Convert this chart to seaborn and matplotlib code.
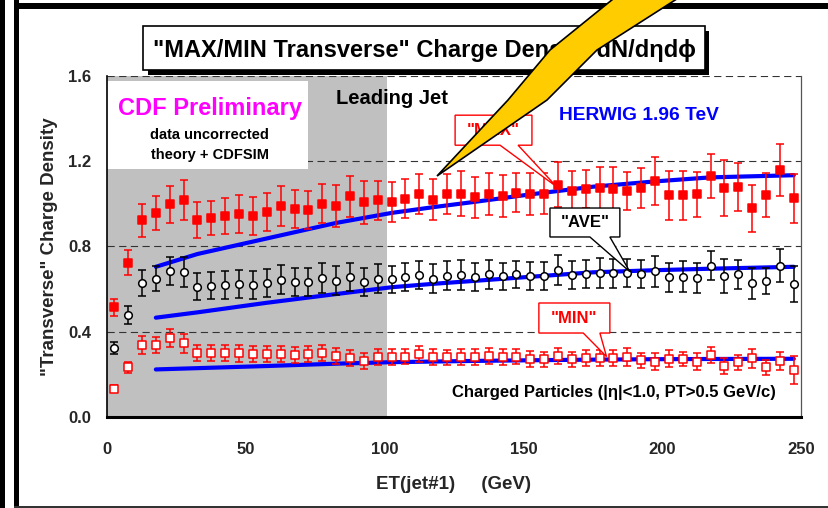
import numpy as np
import pandas as pd
import matplotlib
matplotlib.use("Agg")
import matplotlib.pyplot as plt
import seaborn as sns
from matplotlib.patches import Rectangle, Polygon

# ---------------------------------------------------------------- data
et_bins = [2.5, 7.5, 12.5, 17.5, 22.5, 27.5, 32.5, 37.5, 42.5, 47.5,
           52.5, 57.5, 62.5, 67.5, 72.5, 77.5, 82.5, 87.5, 92.5, 97.5,
           102.5, 107.5, 112.5, 117.5, 122.5, 127.5, 132.5, 137.5, 142.5, 147.5,
           152.5, 157.5, 162.5, 167.5, 172.5, 177.5, 182.5, 187.5, 192.5, 197.5,
           202.5, 207.5, 212.5, 217.5, 222.5, 227.5, 232.5, 237.5, 242.5, 247.5]

max_density = [0.513, 0.723, 0.923, 0.957, 0.998, 1.017, 0.923, 0.934, 0.942, 0.951,
               0.942, 0.961, 0.990, 0.975, 0.970, 1.001, 0.989, 1.036, 1.006, 1.017,
               1.008, 1.023, 1.044, 1.020, 1.045, 1.048, 1.030, 1.045, 1.036, 1.051,
               1.047, 1.048, 1.090, 1.059, 1.068, 1.075, 1.070, 1.059, 1.072, 1.106,
               1.039, 1.040, 1.044, 1.131, 1.075, 1.079, 0.978, 1.040, 1.158, 1.025]
max_err = [0.041, 0.058, 0.077, 0.080, 0.086, 0.095, 0.086, 0.081, 0.086, 0.088,
           0.088, 0.091, 0.095, 0.090, 0.090, 0.093, 0.100, 0.096, 0.102, 0.092,
           0.094, 0.092, 0.094, 0.096, 0.094, 0.104, 0.095, 0.099, 0.100, 0.092,
           0.098, 0.098, 0.105, 0.094, 0.090, 0.098, 0.102, 0.090, 0.094, 0.113,
           0.116, 0.114, 0.107, 0.102, 0.131, 0.111, 0.109, 0.103, 0.122, 0.117]

ave_density = [0.324, 0.477, 0.629, 0.648, 0.684, 0.679, 0.610, 0.615, 0.619, 0.623,
               0.617, 0.627, 0.643, 0.632, 0.632, 0.651, 0.638, 0.657, 0.634, 0.649,
               0.645, 0.654, 0.665, 0.649, 0.662, 0.665, 0.654, 0.668, 0.660, 0.668,
               0.660, 0.662, 0.688, 0.665, 0.670, 0.674, 0.673, 0.673, 0.670, 0.684,
               0.654, 0.657, 0.652, 0.709, 0.660, 0.668, 0.626, 0.638, 0.709, 0.623]
ave_err = [0.028, 0.041, 0.061, 0.059, 0.066, 0.069, 0.064, 0.063, 0.064, 0.064,
           0.065, 0.066, 0.068, 0.065, 0.065, 0.069, 0.068, 0.067, 0.065, 0.067,
           0.064, 0.066, 0.065, 0.067, 0.068, 0.069, 0.066, 0.067, 0.064, 0.064,
           0.066, 0.066, 0.070, 0.064, 0.065, 0.069, 0.067, 0.066, 0.067, 0.073,
           0.069, 0.073, 0.069, 0.068, 0.079, 0.070, 0.074, 0.061, 0.078, 0.086]

min_density = [0.131, 0.232, 0.336, 0.336, 0.368, 0.344, 0.300, 0.300, 0.300, 0.297,
               0.294, 0.294, 0.294, 0.290, 0.294, 0.300, 0.286, 0.277, 0.263, 0.282,
               0.279, 0.282, 0.294, 0.279, 0.279, 0.279, 0.279, 0.285, 0.279, 0.282,
               0.272, 0.269, 0.285, 0.269, 0.276, 0.276, 0.276, 0.282, 0.266, 0.258,
               0.272, 0.271, 0.258, 0.290, 0.238, 0.255, 0.274, 0.232, 0.263, 0.219]
min_err = [0.016, 0.026, 0.041, 0.039, 0.042, 0.043, 0.039, 0.039, 0.038, 0.039,
           0.039, 0.038, 0.039, 0.038, 0.039, 0.039, 0.038, 0.038, 0.037, 0.038,
           0.038, 0.035, 0.037, 0.037, 0.036, 0.037, 0.037, 0.036, 0.037, 0.036,
           0.037, 0.036, 0.038, 0.037, 0.036, 0.038, 0.039, 0.042, 0.035, 0.039,
           0.039, 0.035, 0.041, 0.036, 0.039, 0.035, 0.045, 0.036, 0.042, 0.064]

herwig_et = [17.5, 32.5, 57.5, 82.5, 102.5, 117.5, 132.5, 152.5, 175.0, 197.5, 217.5, 247.5]
herwig_max = [0.704, 0.764, 0.837, 0.910, 0.957, 0.984, 1.009, 1.044, 1.080, 1.105, 1.124, 1.134]
herwig_ave = [0.465, 0.490, 0.535, 0.576, 0.608, 0.624, 0.638, 0.657, 0.678, 0.688, 0.695, 0.704]
herwig_min = [0.222, 0.228, 0.238, 0.249, 0.256, 0.259, 0.262, 0.265, 0.268, 0.270, 0.271, 0.272]

x_ticks = [0, 50, 100, 150, 200, 250]
y_ticks = [0.0, 0.4, 0.8, 1.2, 1.6]

RED, BLUE, BLACK = "#FF0000", "#0000FF", "#000000"

data = pd.DataFrame({
    "ET": et_bins * 3,
    "density": max_density + ave_density + min_density,
    "err": max_err + ave_err + min_err,
    "region": ["MAX"] * 50 + ["AVE"] * 50 + ["MIN"] * 50,
})
theory = pd.DataFrame({
    "ET": herwig_et * 3,
    "density": herwig_max + herwig_ave + herwig_min,
    "region": ["MAX"] * 12 + ["AVE"] * 12 + ["MIN"] * 12,
})

# ---------------------------------------------------------------- figure
sns.set_theme(style="white")
plt.rcParams["font.family"] = ["Liberation Sans", "DejaVu Sans"]
plt.rcParams["font.weight"] = "bold"

W, H = 829, 508
fig = plt.figure(figsize=(W / 100, H / 100), dpi=100)
fig.patch.set_facecolor("white")


def fx(px):
    return px / W


def fy(py):
    return 1 - py / H


ax = fig.add_axes([fx(107.3), fy(416.7), (800.7 - 107.3) / W, (416.7 - 76.0) / H])
ax.set_facecolor("white")
ax.set_xlim(0, 250)
ax.set_ylim(0, 1.6)

# shaded leading-jet region and label box
ax.axvspan(0, 101, ymin=0, ymax=1, color="#C0C0C0", zorder=0, lw=0)
for yv in y_ticks[1:]:
    ax.axhline(yv, color="#333333", lw=0.8, dashes=(6.5, 4.0), zorder=0.5)
ax.add_patch(Rectangle((0, 1.162), 72.3, 0.413, facecolor="white",
                       edgecolor="none", zorder=1))

# HERWIG curves
sns.lineplot(data=theory, x="ET", y="density", units="region", estimator=None,
             color=BLUE, lw=3.0, ax=ax, zorder=2, legend=False)

# error bars and markers
styles = {
    "MAX": dict(color=RED, marker="s", face=RED),
    "AVE": dict(color=BLACK, marker="o", face="white"),
    "MIN": dict(color=RED, marker="s", face="white"),
}
for name, st in styles.items():
    sub = data[data["region"] == name]
    ax.errorbar(sub["ET"], sub["density"], yerr=sub["err"], fmt="none",
                ecolor=st["color"], elinewidth=1.1, capsize=3, capthick=1.1,
                zorder=3)
    sns.scatterplot(data=sub, x="ET", y="density", marker=st["marker"],
                    s=26 if st["marker"] == "s" else 30,
                    color=st["face"], edgecolor=st["color"], linewidth=1.1,
                    ax=ax, zorder=4, legend=False)


# call-out labels
def callout(x0, x1, y0, y1, t0, t1, tip, text, color):
    pts = [(x0, y1), (x1, y1), (x1, y0), (t1, y0), tip, (t0, y0), (x0, y0)]
    ax.add_patch(Polygon(pts, closed=True, facecolor="white", edgecolor=color,
                         lw=1.0, zorder=5))
    ax.text((x0 + x1) / 2, (y0 + y1) / 2, text, color=color, fontsize=12,
            fontweight="bold", ha="center", va="center", zorder=6)


callout(125.4, 153.1, 1.275, 1.416, 141.6, 148.1, (162.0, 1.080), '"MAX"', RED)
callout(159.6, 184.8, 0.844, 0.980, 174.0, 181.2, (188.4, 0.681), '"AVE"', BLACK)
callout(155.6, 181.2, 0.393, 0.534, 171.6, 177.6, (180.0, 0.282), '"MIN"', RED)

# annotations
ax.text(36.85, 1.416, "CDF Preliminary", color="#FF00FF", fontsize=17,
        fontweight="bold", ha="center", va="baseline", zorder=6)
ax.text(36.85, 1.306, "data uncorrected", color=BLACK, fontsize=10.5,
        fontweight="bold", ha="center", va="baseline", zorder=6)
ax.text(36.85, 1.208, "theory + CDFSIM", color=BLACK, fontsize=10.5,
        fontweight="bold", ha="center", va="baseline", zorder=6)
ax.text(102.5, 1.470, "Leading Jet", color=BLACK, fontsize=14.5,
        fontweight="bold", ha="center", va="baseline", zorder=6)
ax.text(191.7, 1.392, "HERWIG 1.96 TeV", color=BLUE, fontsize=13.8,
        fontweight="bold", ha="center", va="baseline", zorder=6)
ax.text(182.7, 0.091, "Charged Particles (|η|<1.0, PT>0.5 GeV/c)", color=BLACK,
        fontsize=12, fontweight="bold", ha="center", va="baseline", zorder=6)

# axes styling
ax.set_xticks(x_ticks)
ax.set_yticks(y_ticks)
ax.set_xticklabels([str(v) for v in x_ticks])
ax.set_yticklabels([f"{v:.1f}" for v in y_ticks])
ax.tick_params(axis="x", direction="inout", length=8.4, width=1.2, color=BLACK,
               pad=14, labelsize=12)
ax.tick_params(axis="y", direction="out", length=4, width=1.2, color=BLACK,
               pad=7.5, labelsize=12)
for lab in ax.get_xticklabels() + ax.get_yticklabels():
    lab.set_fontweight("bold")
ax.set_xlabel("ET(jet#1)     (GeV)", fontsize=13.5, fontweight="bold", labelpad=14)
ax.set_ylabel('"Transverse" Charge Density', fontsize=13.5, fontweight="bold",
              labelpad=7)
ax.spines["top"].set_visible(False)
ax.spines["left"].set_color(BLACK)
ax.spines["left"].set_linewidth(1.2)
ax.spines["bottom"].set_color(BLACK)
ax.spines["bottom"].set_linewidth(2.2)
ax.spines["right"].set_color("#555555")
ax.spines["right"].set_linewidth(0.9)

# page frame
fig.add_artist(Rectangle((0, 0), fx(5), 1, transform=fig.transFigure,
                         facecolor=BLACK, edgecolor="none", zorder=1))
fig.add_artist(Rectangle((fx(14.5), 0), fx(4.5), 1, transform=fig.transFigure,
                         facecolor=BLACK, edgecolor="none", zorder=1))
fig.add_artist(Rectangle((fx(14.5), fy(8.5)), 1, 5.5 / H, transform=fig.transFigure,
                         facecolor=BLACK, edgecolor="none", zorder=1))
fig.add_artist(Rectangle((fx(14.5), fy(507.5)), 1, 2.0 / H, transform=fig.transFigure,
                         facecolor="#333333", edgecolor="none", zorder=1))

# title box with drop shadow
fig.add_artist(Rectangle((fx(147.5), fy(74.5)), (705 - 143) / W, (70 - 26) / H,
                         transform=fig.transFigure, facecolor=BLACK,
                         edgecolor="none", zorder=2))
fig.add_artist(Rectangle((fx(143), fy(70)), (705 - 143) / W, (70 - 26) / H,
                         transform=fig.transFigure, facecolor="white",
                         edgecolor=BLACK, lw=1.2, zorder=2.1))
fig.text(fx(424), fy(56.7), '"MAX/MIN Transverse" Charge Density dN/dηdϕ',
         fontsize=17, fontweight="bold", ha="center", va="baseline",
         color=BLACK, zorder=3)

# lightning bolt pointer
bolt = [(437, 176), (508, 100), (550, 50), (618, -5), (683, -5),
        (597, 50), (547, 100)]
fig.add_artist(Polygon([(fx(x), fy(y)) for x, y in bolt], closed=True,
                       transform=fig.transFigure, facecolor="#FFCC00",
                       edgecolor=BLACK, lw=1.2, zorder=4))

fig.savefig("out.png", dpi=100, facecolor="white")
